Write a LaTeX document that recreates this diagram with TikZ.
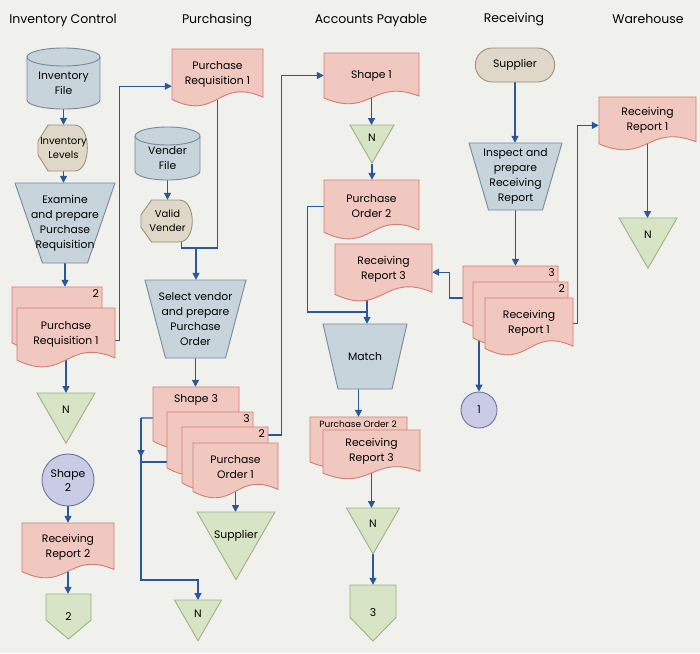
\documentclass[tikz,border=0pt]{standalone}
\usepackage{fontspec}
\setmainfont{Poppins}
\usetikzlibrary{arrows.meta,shapes.misc,backgrounds}
\definecolor{DocPink}{RGB}{241,200,191}
\definecolor{DocEdge}{RGB}{208,124,112}
\definecolor{ProcGrey}{RGB}{200,212,220}
\definecolor{ProcEdge}{RGB}{118,138,152}
\definecolor{DispTan}{RGB}{223,215,199}
\definecolor{DispEdge}{RGB}{160,146,122}
\definecolor{SinkGreen}{RGB}{216,228,198}
\definecolor{SinkEdge}{RGB}{158,178,132}
\definecolor{ConnLilac}{RGB}{201,204,228}
\definecolor{ConnEdge}{RGB}{108,114,160}
\definecolor{FlowBlue}{RGB}{40,88,155}
\definecolor{Paper}{RGB}{240,240,237}

% document: name, left, top, width, height, text
\newcommand{\flowdoc}[6]{%
  \filldraw[docbody] (#2,#3) -- ({#2+#4},#3) -- ({#2+#4},{#3+0.86*#5})
    .. controls ({#2+0.5*#4},{#3+0.5*#5}) and ({#2+0.5*#4},{#3+1.3*#5}) .. (#2,{#3+0.9*#5}) -- cycle;
  \node[doctext, minimum width=#4, minimum height={0.9*#5}] (#1) at ({#2+0.5*#4},{#3+0.45*#5}) {#6};
}
% file (cylinder): name, left, top, width, height, text
\newcommand{\flowfile}[6]{%
  \filldraw[filebody] (#2,{#3+9}) -- (#2,{#3+#5-9})
    arc[start angle=180, end angle=360, x radius=0.5*#4pt, y radius=9pt]
    -- ({#2+#4},{#3+9}) arc[start angle=0, end angle=180, x radius=0.5*#4pt, y radius=9pt] -- cycle;
  \draw[filebody, fill=none] (#2,{#3+9}) arc[start angle=180, end angle=360, x radius=0.5*#4pt, y radius=9pt];
  \node[doctext, minimum width=#4, minimum height={#5-9}] (#1) at ({#2+0.5*#4},{#3+0.5*#5+4.5}) {#6};
}
% display: name, left, top, width, height, text
\newcommand{\flowdisp}[6]{%
  \filldraw[dispbody] (#2,{#3+0.35*#5}) -- ({#2+0.2*#4},#3) -- ({#2+0.72*#4},#3)
    .. controls ({#2+1.05*#4},#3) and ({#2+1.05*#4},{#3+#5}) .. ({#2+0.72*#4},{#3+#5})
    -- ({#2+0.2*#4},{#3+#5}) -- (#2,{#3+0.65*#5}) -- cycle;
  \node[doctext, font=\fontsize{10}{14}\selectfont, minimum width=#4, minimum height=#5] (#1) at ({#2+0.5*#4},{#3+0.5*#5}) {#6};
}
% manual operation: name, left, top, top width, bottom width, height, text
\newcommand{\flowman}[7]{%
  \filldraw[manbody] (#2,#3) -- ({#2+#4},#3) -- ({#2+0.5*#4+0.5*#5},{#3+#6})
    -- ({#2+0.5*#4-0.5*#5},{#3+#6}) -- cycle;
  \node[doctext, minimum width=#4, minimum height=#6] (#1) at ({#2+0.5*#4},{#3+0.5*#6}) {#7};
}
% storage triangle: name, centre x, top, side, text
\newcommand{\flowsink}[5]{%
  \filldraw[sinkbody] ({#2-0.5*#4},#3) -- ({#2+0.5*#4},#3) -- (#2,{#3+0.866*#4}) -- cycle;
  \pgfmathsetmacro\sinkup{0.29*#4+3.7}%
  \pgfmathsetmacro\sinkdown{0.576*#4-3.7}%
  \node[doctext, anchor=north, minimum width=#4, text height=\sinkup pt, text depth=\sinkdown pt] (#1) at (#2,#3) {#5};
}
% off-page connector: name, left, top, width, height, text
\newcommand{\flowoff}[6]{%
  \filldraw[sinkbody] (#2,#3) -- ({#2+#4},#3) -- ({#2+#4},{#3+0.58*#5}) -- ({#2+0.5*#4},{#3+#5})
    -- (#2,{#3+0.58*#5}) -- cycle;
  \node[doctext, minimum width=#4, minimum height=#5] (#1) at ({#2+0.5*#4},{#3+0.5*#5}) {#6};
}

\begin{document}
\begin{tikzpicture}[
    x=1pt, y=-1pt,
    colhead/.style={inner sep=0pt, font=\fontsize{12.5}{15}\selectfont},
    doctext/.style={inner sep=0pt, align=center, font=\fontsize{10.8}{15}\selectfont},
    tag/.style={inner sep=0pt, font=\fontsize{10.8}{12}\selectfont},
    docbody/.style={fill=DocPink, draw=DocEdge, line width=0.9pt},
    filebody/.style={fill=ProcGrey, draw=ProcEdge, line width=0.9pt},
    manbody/.style={fill=ProcGrey, draw=ProcEdge, line width=0.9pt},
    dispbody/.style={fill=DispTan, draw=DispEdge, line width=0.9pt},
    sinkbody/.style={fill=SinkGreen, draw=SinkEdge, line width=0.9pt},
    connector/.style={circle, fill=ConnLilac, draw=ConnEdge, line width=0.9pt, inner sep=0pt, align=center, font=\fontsize{10.8}{14}\selectfont},
    termbox/.style={rounded rectangle, fill=DispTan, draw=DispEdge, line width=0.9pt, font=\fontsize{10.8}{15}\selectfont},
    wire/.style={draw=FlowBlue, line width=1.2pt},
    flow/.style={wire, -{Triangle[length=7pt, width=7pt]}}
]
\useasboundingbox (0,0) rectangle (700,653);

% Column headers
\node[colhead] (hInv) at (63,20) {Inventory Control};
\node[colhead] (hPur) at (217,20) {Purchasing};
\node[colhead] (hAcc) at (371,20) {Accounts Payable};
\node[colhead] (hRec) at (514,19) {Receiving};
\node[colhead] (hWar) at (648,19) {Warehouse};

% Inventory Control
\flowfile{invF}{27}{48}{73}{61}{Inventory\\File}
\flowdisp{invL}{38}{125}{51}{46}{Inventory\\Levels}
\flowman{exam}{15}{183}{100}{45}{80}{Examine\\and prepare\\Purchase\\Requisition}
\flowdoc{prqB}{12}{287}{90}{62}{}
\node[tag, anchor=north east] (tagPrq) at (99,289) {2};
\flowdoc{prq1}{17}{308}{98}{58}{Purchase\\Requisition 1}
\flowsink{nA}{66}{393}{58}{N}
\node[connector, minimum size=52] (shp2) at (68,480) {Shape\\2};
\flowdoc{rr2}{22}{523}{92}{54}{Receiving\\Report 2}
\flowoff{off2}{46}{594}{45}{45}{2}

% Purchasing
\flowdoc{prpA}{172}{49}{91}{56}{Purchase\\Requisition 1}
\flowfile{vfile}{135}{127}{65}{53}{Vender\\File}
\flowdisp{vval}{141}{200}{53}{42}{Valid\\Vender}
\flowman{selv}{145}{280}{101}{60}{78}{Select vendor\\and prepare\\Purchase\\Order}
\flowdoc{sh3}{153}{387}{86}{60}{}
\node[tag] (tagSh3) at (196,400) {Shape 3};
\flowdoc{d3}{167}{412}{86}{62}{}
\node[tag, anchor=north east] (tagD3) at (250,414) {3};
\flowdoc{d2}{182}{427}{86}{62}{}
\node[tag, anchor=north east] (tagD2) at (265,429) {2};
\flowdoc{po1}{193}{443}{85}{54}{Purchase\\Order 1}
\flowsink{supB}{236}{512}{78}{Supplier}
\flowsink{nB}{198}{600}{47}{N}

% Accounts Payable
\flowdoc{sh1}{324}{53}{95}{50}{Shape 1}
\flowsink{nC}{372}{125}{44}{N}
\flowdoc{po2}{324}{180}{95}{58}{Purchase\\Order 2}
\flowdoc{rr3}{335}{244}{97}{56}{Receiving\\Report 3}
\flowman{match}{323}{324}{84}{54}{65}{Match}
\flowdoc{poB}{310}{417}{97}{50}{}
\node[tag, font=\fontsize{9}{10}\selectfont] (tagPoB) at (358,424) {Purchase Order 2};
\flowdoc{rr3b}{323}{430}{97}{48}{Receiving\\Report 3}
\flowsink{nD}{373}{508}{53}{N}
\flowoff{off3}{350}{585}{46}{56}{3}

% Receiving
\node[termbox, minimum width=86, minimum height=34] (supA) at (515,65) {Supplier};
\flowman{insp}{469}{143}{93}{54}{67}{Inspect and\\prepare\\Receiving\\Report}
\flowdoc{r3}{463}{266}{95}{62}{}
\node[tag, anchor=north east] (tagR3) at (555,268) {3};
\flowdoc{r2}{473}{282}{95}{62}{}
\node[tag, anchor=north east] (tagR2) at (565,284) {2};
\flowdoc{rr1}{485}{298}{88}{56}{Receiving\\Report 1}
\node[connector, minimum size=36] (c1) at (479,410) {1};

% Warehouse
\flowdoc{wrr1}{599}{97}{97}{52}{Receiving\\Report 1}
\flowsink{nE}{648}{218}{58}{N}

% Flow lines (behind the symbols)
\begin{pgfonlayer}{background}
\fill[Paper] (0,0) rectangle (700,653);
\coordinate (jP) at (196,248);
\coordinate (busT) at (141,418);
\coordinate (busA) at (141,457);
\coordinate (busB) at (141,580);
\coordinate (jM) at (367,312);

\draw[flow] (invF.south) -- (invF.south |- invL.north);
\draw[flow] (invL.south) -- (invL.south |- exam.north);
\draw[flow] (exam.south) -- (exam.south |- prqB.north);
\draw[flow] (prq1.south) -- (prq1.south |- nA.north);
\draw[flow] (shp2.south) -- (shp2.south |- rr2.north);
\draw[flow] (rr2.south) -- (rr2.south |- off2.north);
\draw[flow] ([yshift=-6pt]prq1.east) -- ++(4,0) |- ([yshift=-12pt]prpA.west);

\draw[flow] (vfile.south) -- (vfile.south |- vval.north);
\draw[wire] (prpA.south) |- (jP);
\draw[wire] ([xshift=14pt]vval.south) |- (jP);
\draw[flow] (jP) -- (jP |- selv.north);
\draw[flow] (selv.south) -- (selv.south |- sh3.north);
\draw[flow] (po1.south) -- (po1.south |- supB.north);
\draw[wire] ([yshift=-4pt]sh3.west) -- (busT);
\draw[wire] ([yshift=-22pt]d3.west) -- ++(-26,0);
\draw[flow] (busT) -- (busA);
\draw[flow] (busT) -- (busB) -| (nB.north);
\draw[flow] ([yshift=20pt]d2.east) -- ++(13,0) |- (sh1.west);

\draw[flow] (sh1.south) -- (sh1.south |- nC.north);
\draw[flow] (nC.south) -- (nC.south |- po2.north);
\draw[wire] (po2.west) -- ++(-16,0) |- (jM);
\draw[flow] (rr3.south -| jM) -- (match.north -| jM);
\draw[flow] (match.south -| poB.north) -- (poB.north);
\draw[flow] (rr3b.south) -- (rr3b.south |- nD.north);
\draw[flow] (nD.south) -- (nD.south |- off3.north);

\draw[flow] (supA.south) -- (supA.south |- insp.north);
\draw[flow] (insp.south) -- (insp.south |- r3.north);
\draw[flow] ([yshift=-4pt]r3.west) -- ++(-13,0) |- ([yshift=-3pt]rr3.east);
\draw[flow] (r3.south -| c1.north) -- (c1.north);
\draw[flow] (rr1.east) -- ++(4,0) |- ([yshift=-5pt]wrr1.west);
\draw[flow] (wrr1.south) -- (wrr1.south |- nE.north);
\end{pgfonlayer}
\end{tikzpicture}
\end{document}
